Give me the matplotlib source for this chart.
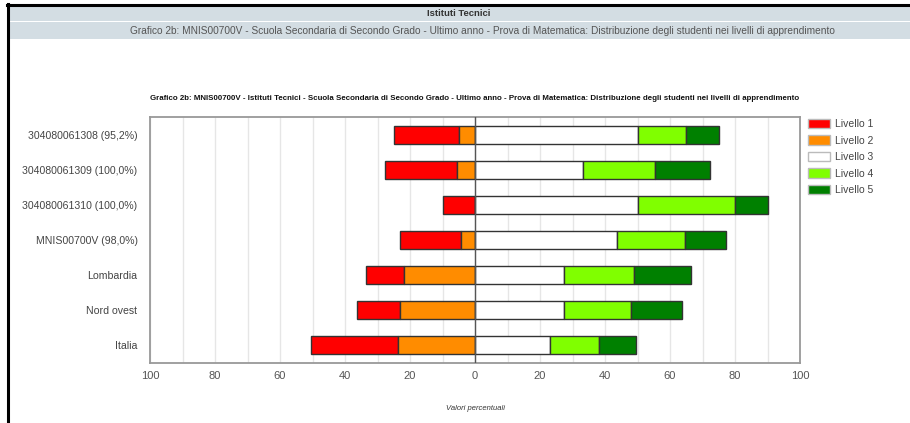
import numpy as np
import matplotlib
matplotlib.use("Agg")
import matplotlib.pyplot as plt
from matplotlib.patches import Patch, Rectangle
from matplotlib.lines import Line2D

plt.rcParams["font.family"] = ["Liberation Sans", "DejaVu Sans"]

# ============================================================
# Dati (percentuali per livello)
# ============================================================

categorie = [
    "304080061308 (95,2%)",
    "304080061309 (100,0%)",
    "304080061310 (100,0%)",
    "MNIS00700V (98,0%)",
    "Lombardia",
    "Nord ovest",
    "Italia",
]
livello_1 = [20.0, 22.2, 10.0, 18.8, 11.6, 13.1, 26.6]
livello_2 = [5.0, 5.6, 0.0, 4.2, 21.9, 23.1, 23.8]
livello_3 = [50.0, 33.3, 50.0, 43.8, 27.4, 27.4, 23.1]
livello_4 = [15.0, 22.2, 30.0, 20.8, 21.5, 20.7, 15.1]
livello_5 = [10.0, 16.7, 10.0, 12.5, 17.6, 15.6, 11.3]

nomi_livelli = ["Livello 1", "Livello 2", "Livello 3", "Livello 4", "Livello 5"]
colori = ["#ff0000", "#ff8c00", "#ffffff", "#80ff00", "#008000"]

titolo_sezione = "Istituti Tecnici"
sottotitolo = ("Grafico 2b: MNIS00700V - Scuola Secondaria di Secondo Grado - Ultimo anno - "
               "Prova di Matematica: Distribuzione degli studenti nei livelli di apprendimento")
titolo_grafico = ("Grafico 2b: MNIS00700V - Istituti Tecnici - Scuola Secondaria di Secondo Grado - "
                  "Ultimo anno - Prova di Matematica: Distribuzione degli studenti nei livelli di apprendimento")

# ============================================================
# Figura + intestazione
# ============================================================

W, H = 910, 423
fig = plt.figure(figsize=(W / 100, H / 100), dpi=100)

def fx(px):
    return px / W

def fy(py):
    return 1 - py / H

# bande grigie dell'intestazione
fig.patches.append(Rectangle((fx(9), fy(21)), 1, 15 / H, transform=fig.transFigure,
                             facecolor="#d3dde3", edgecolor="none", zorder=0))
fig.patches.append(Rectangle((fx(9), fy(39.5)), 1, 17 / H, transform=fig.transFigure,
                             facecolor="#d3dde3", edgecolor="none", zorder=0))
# bordo nero sinistro e superiore
fig.lines.append(Line2D([fx(7.5), fx(7.5)], [0, fy(4)], transform=fig.transFigure,
                        color="black", linewidth=2.2))
fig.lines.append(Line2D([fx(6.5), 1], [fy(5), fy(5)], transform=fig.transFigure,
                        color="black", linewidth=2.2))

fig.text(fx(459), fy(13.5), titolo_sezione, ha="center", va="center",
         fontsize=6.8, fontweight="bold", color="#333333")
fig.text(fx(482), fy(31), sottotitolo, ha="center", va="center",
         fontsize=7.3, color="#555555")

# ============================================================
# Grafico a barre divergenti
# ============================================================

ax = fig.add_axes([fx(150), fy(363), fx(800) - fx(150), (363 - 117) / H])

y = np.arange(len(categorie))
l1 = np.array(livello_1)
l2 = np.array(livello_2)
l3 = np.array(livello_3)
l4 = np.array(livello_4)
l5 = np.array(livello_5)

h = 0.51
kw = dict(height=h, edgecolor="#333333", linewidth=1, zorder=3)
ax.barh(y, -l1, left=-l2, color=colori[0], **kw)
ax.barh(y, -l2, left=0, color=colori[1], **kw)
ax.barh(y, l3, left=0, color=colori[2], **kw)
ax.barh(y, l4, left=l3, color=colori[3], **kw)
ax.barh(y, l5, left=l3 + l4, color=colori[4], **kw)

ax.set_xlim(-100, 100)
ax.set_ylim(len(categorie) - 0.5, -0.5)
ax.set_xticks(np.arange(-100, 101, 20))
ax.set_xticklabels([str(abs(v)) for v in range(-100, 101, 20)])
ax.set_xticks(np.arange(-100, 101, 10), minor=True)
ax.set_yticks(y)
ax.set_yticklabels(categorie)
ax.tick_params(axis="both", which="both", length=0)
ax.tick_params(axis="y", labelsize=7.6, colors="#444444", pad=9)
ax.tick_params(axis="x", labelsize=8, colors="#555555", pad=6)

ax.grid(axis="x", which="both", color="#e6e6e6", linewidth=1, zorder=0)
ax.axvline(0, color="#555555", linewidth=1, zorder=4)
for s in ax.spines.values():
    s.set_color("#999999")
    s.set_linewidth(1.3)

ax.set_title(titolo_grafico, fontsize=5.7, fontweight="bold", color="#111111", pad=12)
ax.set_xlabel("Valori percentuali", fontsize=5.5, fontstyle="italic", color="#333333", labelpad=17)

legend_elements = [Patch(facecolor=c, edgecolor="#bbbbbb", label=n)
                   for c, n in zip(colori, nomi_livelli)]
ax.legend(handles=legend_elements, loc="upper left", bbox_to_anchor=(0.998, 1.03),
          frameon=False, fontsize=7.5, labelcolor="#444444", handlelength=2.1,
          handleheight=1.0, labelspacing=0.6, handletextpad=0.5)

plt.savefig("out.png", dpi=100, facecolor="white")
